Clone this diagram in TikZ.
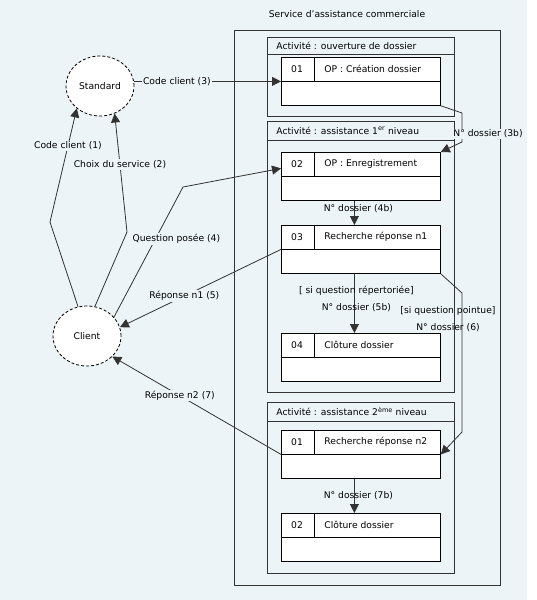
\documentclass[tikz,border=0pt]{standalone}
\usepackage{fontspec}
\setmainfont{DejaVu Sans}
\usetikzlibrary{shapes.geometric,arrows.meta}
\definecolor{bgcol}{RGB}{237,244,247}
\definecolor{linecol}{RGB}{51,51,51}
\tikzset{
	actor/.style={ellipse, draw=black, dash pattern=on 3pt off 2pt, fill=white, minimum width=68pt, minimum height=60pt},
	opbox/.style={rectangle, draw=black, fill=white, minimum width=159pt, minimum height=48pt, anchor=north west},
	actframe/.style={draw=linecol},
	conn/.style={draw=linecol, -{Triangle[width=9pt,length=9pt]}},
	lbl/.style={fill=bgcol, inner sep=1pt},
	lblv/.style={inner sep=1pt, align=center, font=\fontsize{9.2}{17}\selectfont}
}
\begin{document}
\begin{tikzpicture}[x=1pt,y=1pt,line width=0.8pt]
	\tikzstyle{every node}+=[inner sep=0pt, font=\fontsize{9.2}{11}\selectfont]
	\useasboundingbox (0,0) rectangle (536,-600);
	\fill [bgcol] (0,0) rectangle (527,-600);
	% service frame
	\node (title) at (347,-14) {Service d\symbol{39}assistance commerciale};
	\draw [actframe] (234,-30) rectangle (500,-585);
	% activities
	\foreach \name/\top/\head/\bot/\txt in {act1/37/54/116/{Activité : ouverture de dossier},
		act2/121/140/392/{Activité : assistance 1\textsuperscript{er} niveau},
		act3/402/421/573/{Activité : assistance 2\textsuperscript{ème} niveau}} {
		\draw [actframe] (267,-\top) rectangle (454,-\bot);
		\draw [actframe] (267,-\head) -- (454,-\head);
		\node [anchor=west] (\name) at (276,{-(\top+\head)/2}) {\txt};
	}
	% operations
	\foreach \name/\y/\num/\txt in {op1/57/01/{OP : Création dossier},
		op2/152/02/{OP : Enregistrement}, op3/225/03/{Recherche réponse n1},
		op4/333/04/{Clôture dossier}, op5/430/01/{Recherche réponse n2},
		op6/513/02/{Clôture dossier}} {
		\node [opbox] (\name) at (281,-\y) {};
		\draw (\name.west) -- (\name.east);
		\draw ([xshift=33pt]\name.north west) -- ([xshift=33pt]\name.west);
		\node (\name n) at ([xshift=16pt,yshift=-12pt]\name.north west) {\num};
		\node [anchor=west] (\name t) at ([xshift=43pt,yshift=-12pt]\name.north west) {\txt};
	}
	% actors
	\node [actor] (standard) at (100,-86) {Standard};
	\node [actor] (client) at (87,-336) {Client};
	% bends
	\coordinate (k1) at (50,-222);
	\coordinate (k2) at (127,-232);
	\coordinate (k3) at (183,-187);
	\coordinate (k4) at (462,-113);
	\coordinate (k5) at (462,-142);
	\coordinate (k6) at (462,-293);
	\coordinate (k7) at (462,-432);
	% flows
	\draw [conn] (client.107) -- (k1) -- node [lbl, pos=0.67] {Code client (1)} (standard.224);
	\draw [conn] (client.75) -- (k2) -- node [lbl, pos=0.57] {Choix du service (2)} (standard.298);
	\draw [conn] (standard.east |- op1.west) -- node [lbl, pos=0.29] {Code client (3)} (op1.west);
	\draw [conn] (op1.south east) -- (k4) -- node [lbl, pos=0.72, xshift=26pt] {N° dossier (3b)} (k5) -- (op2.north east);
	\draw [conn] (client.35) -- node [lbl, pos=0.6, xshift=21pt] {Question posée (4)} (k3) -- ([yshift=8pt]op2.west);
	\draw [conn] ([xshift=-6.5pt]op2.south) -- node [lblv, pos=0.32, xshift=4pt] {N° dossier (4b)} ([xshift=-6.5pt]op3.north);
	\draw [conn] (op3.west) -- node [lbl, pos=0.6] {Réponse n1 (5)} (client.15);
	\draw [conn] ([xshift=-6.5pt]op3.south) -- node [lblv, pos=0.43, xshift=2pt] {[ si question répertoriée]\\N° dossier (5b)} ([xshift=-6.5pt]op4.north);
	\draw [conn] (op3.south east) -- (k6) -- node [lblv, pos=0.19, xshift=-14pt] {[si question pointue]\\N° dossier (6)} (k7) -- (op5.east);
	\draw [conn] (op5.west) -- node [lbl, pos=0.6] {Réponse n2 (7)} (client.321);
	\draw [conn] ([xshift=-6.5pt]op5.south) -- node [lblv, pos=0.5, xshift=4pt] {N° dossier (7b)} ([xshift=-6.5pt]op6.north);
\end{tikzpicture}
\end{document}
